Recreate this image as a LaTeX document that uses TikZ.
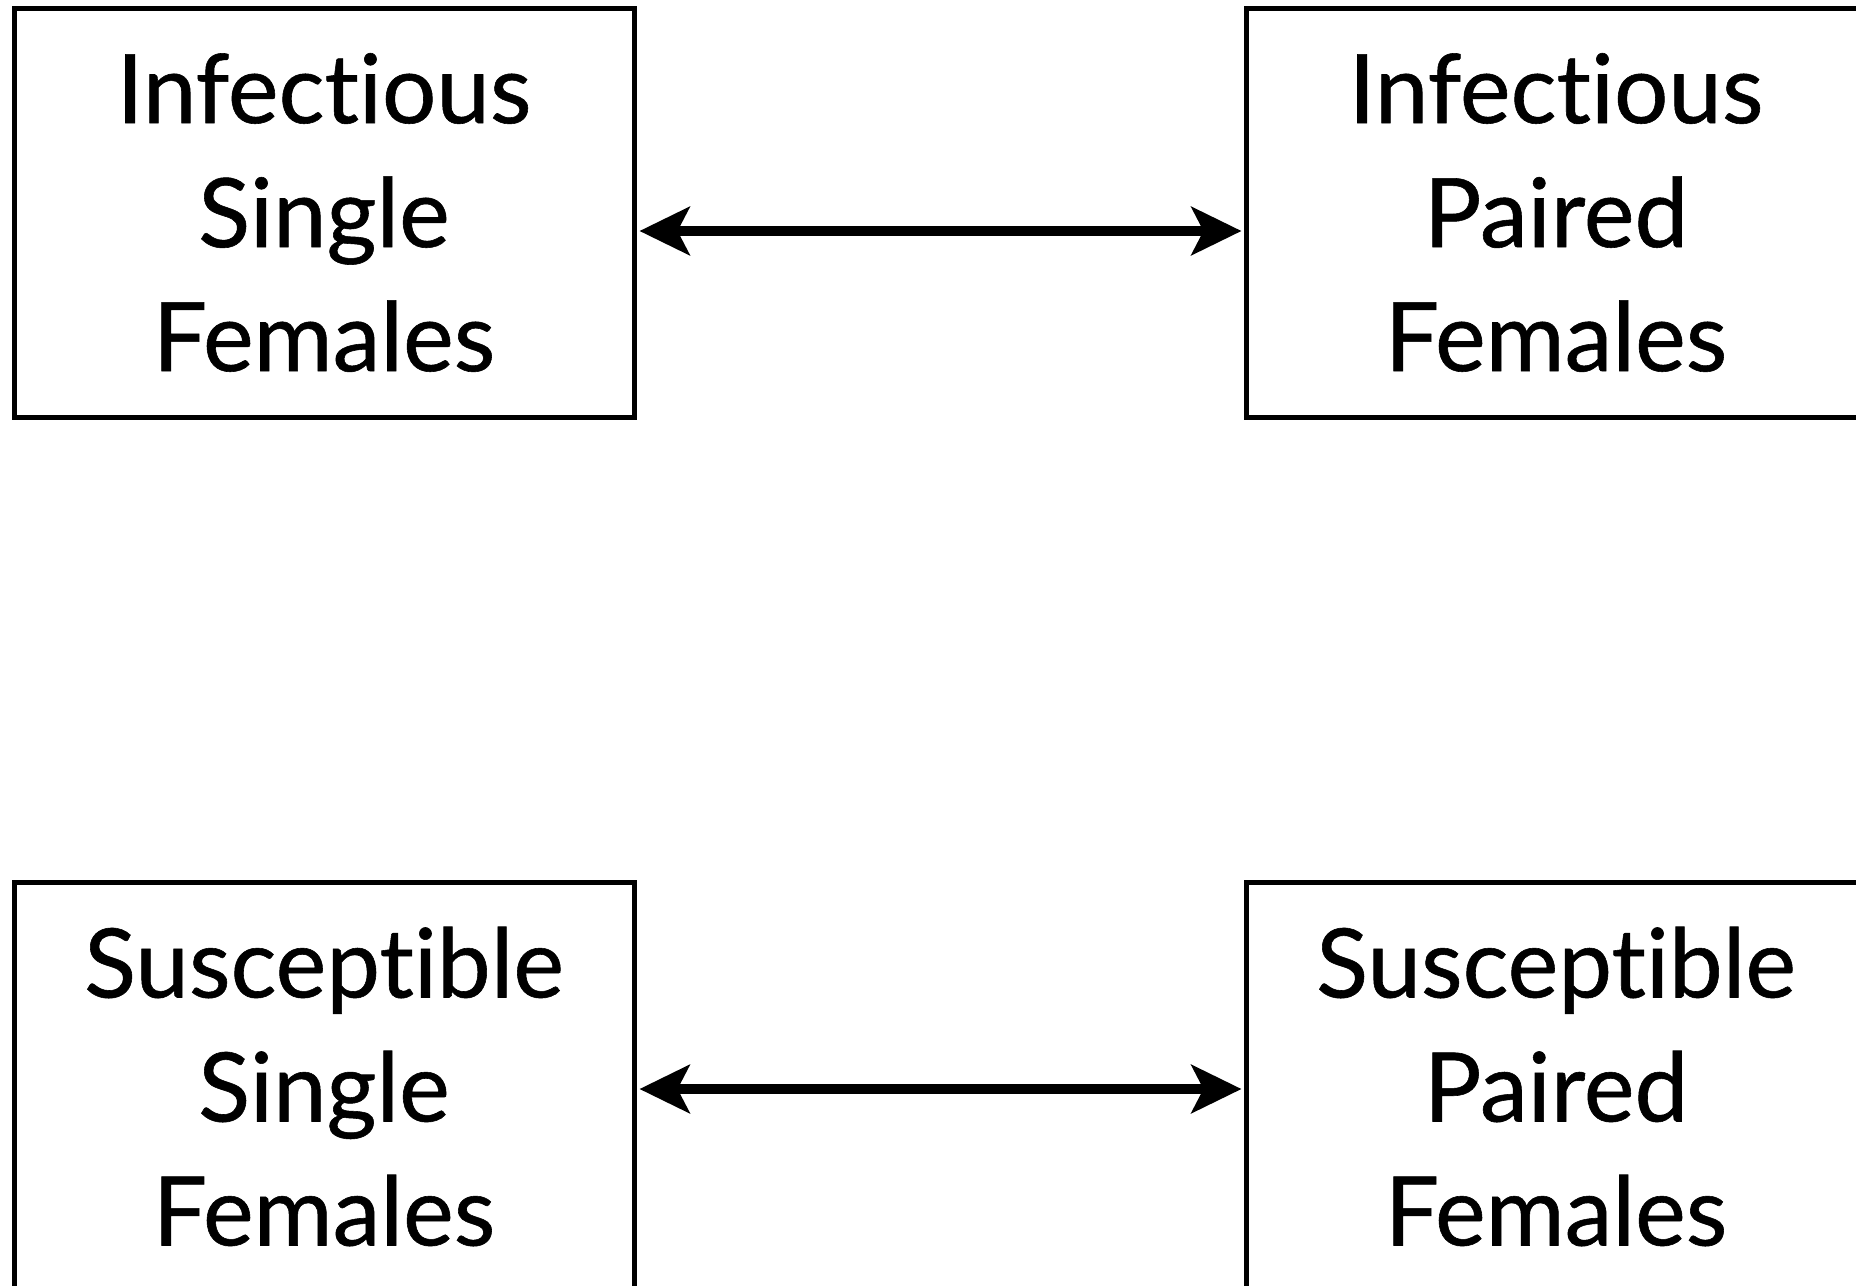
\documentclass[tikz,border=0pt]{standalone}
\usepackage{fontspec}
\setmainfont{Lato}[Ligatures=NoCommon,FakeBold=0.6]
\usetikzlibrary{arrows.meta}
\tikzset{
  compbox/.style={draw=black,line width=2.5pt,minimum width=310pt,minimum height=204.5pt,
    inner sep=0pt,align=center,font=\fontsize{48}{62}\selectfont},
  pairarrow/.style={{Stealth[length=25pt,width=24pt,inset=6pt]}-{Stealth[length=25pt,width=24pt,inset=6pt]},
    line width=5pt,shorten <=1.5pt,shorten >=1pt}
}
\begin{document}
\begin{tikzpicture}[x=0.5pt,y=-0.5pt]
    \useasboundingbox (0,0) rectangle (1856,1285);
    % infectious compartments
    \node[compbox] (isf) at (324,212.5) {Infectious\\Single\\Females};
    \node[compbox] (ipf) at (1556,212.5) {Infectious\\Paired\\Females};
    % susceptible compartments
    \node[compbox] (ssf) at (324,1086.5) {Susceptible\\Single\\Females};
    \node[compbox] (spf) at (1556,1086.5) {Susceptible\\Paired\\Females};
    % pairing and separation
    \draw[pairarrow] ([yshift=-9.25pt]isf.east) -- ([yshift=-9.25pt]ipf.west);
    \draw[pairarrow] ([yshift=-1.25pt]ssf.east) -- ([yshift=-1.25pt]spf.west);
\end{tikzpicture}
\end{document}
